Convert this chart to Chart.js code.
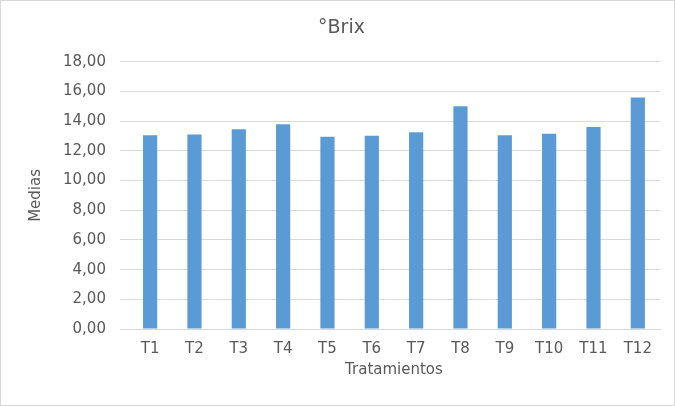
<!DOCTYPE html>
<html><head><meta charset="utf-8">
<script src="https://cdn.jsdelivr.net/npm/chart.js@4"></script>
<style>
html,body{margin:0;padding:0;background:#fff;}
#wrap{position:absolute;left:0;top:0;width:673px;height:404px;border:1px solid #d9d9d9;}
</style></head><body>
<div id="wrap"><canvas id="c"></canvas></div>
<script>
const categories=["T1","T2","T3","T4","T5","T6","T7","T8","T9","T10","T11","T12"];
const brix=[13.05,13.1,13.45,13.8,12.95,13.02,13.25,15.0,13.05,13.15,13.6,15.6];
const titleText="°Brix";
const xTitle="Tratamientos";
const yTitle="Medias";
const font="'DejaVu Sans', Verdana, sans-serif";
new Chart(document.getElementById('c'),{
type:'bar',
data:{labels:categories,datasets:[{data:brix,backgroundColor:'#5B9BD5',categoryPercentage:1,barPercentage:0.32}]},
options:{responsive:true,maintainAspectRatio:false,animation:false,
layout:{padding:{left:22,right:14,top:6,bottom:22}},
plugins:{legend:{display:false},tooltip:{enabled:false},
title:{display:true,text:titleText,color:'#595959',font:{family:font,size:19,weight:'normal'},padding:{top:10,bottom:22}}},
scales:{
x:{grid:{display:false},border:{color:'#d9d9d9'},ticks:{color:'#595959',font:{family:font,size:15}},
title:{display:true,text:xTitle,color:'#595959',font:{family:font,size:15},padding:{top:0}}},
y:{min:0,max:18,border:{display:false},grid:{color:'#d9d9d9'},
ticks:{stepSize:2,color:'#595959',font:{family:font,size:15},padding:14,
callback:v=>v.toFixed(2).replace('.',',')},
title:{display:true,text:yTitle,color:'#595959',font:{family:font,size:15}}}}}
});
</script></body></html>
